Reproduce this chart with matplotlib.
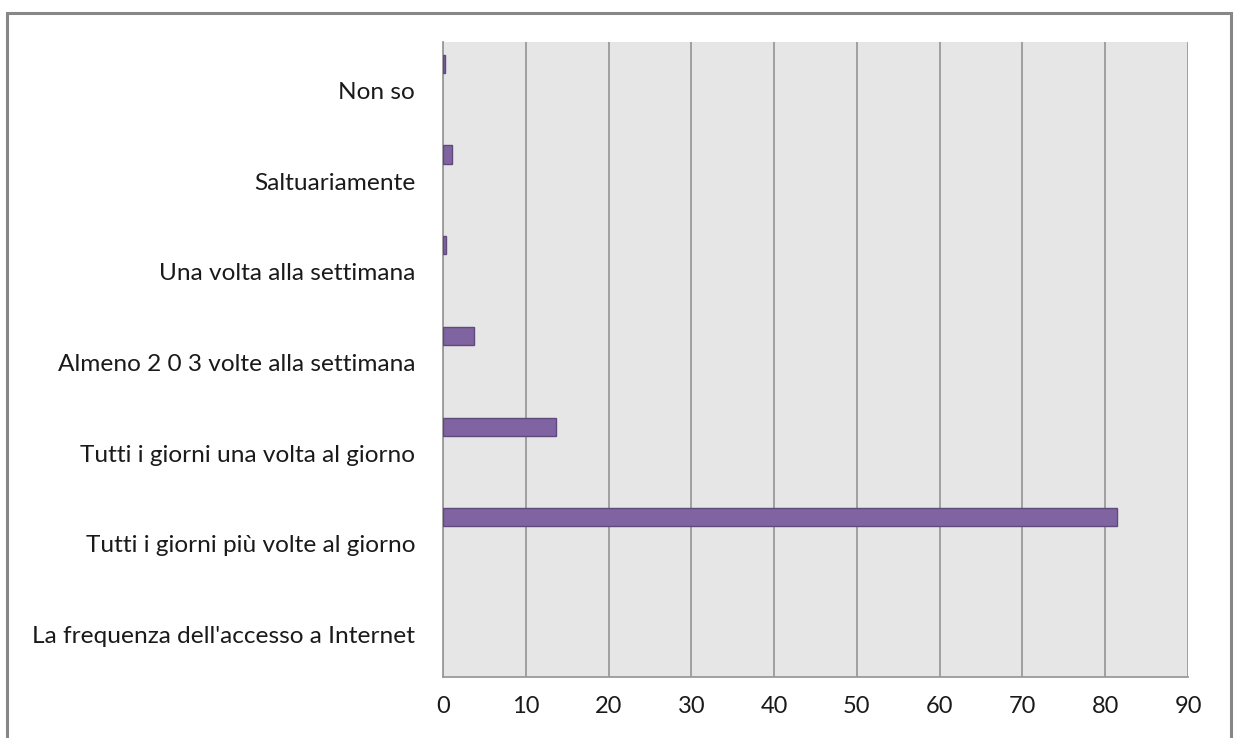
import matplotlib.pyplot as plt
import matplotlib.transforms as mtransforms
from matplotlib.patches import Rectangle

# ---- Дані ----
categories = [
    "La frequenza dell'accesso a Internet",
    "Tutti i giorni più volte al giorno",
    "Tutti i giorni una volta al giorno",
    "Almeno 2 0 3 volte alla settimana",
    "Una volta alla settimana",
    "Saltuariamente",
    "Non so",
]
values = [0, 81.4, 13.6, 3.8, 0.4, 1.1, 0.2]
x_ticks = [0, 10, 20, 30, 40, 50, 60, 70, 80, 90]

plt.rcParams['font.family'] = ['Lato', 'DejaVu Sans']

fig = plt.figure(figsize=(12.38, 7.38), dpi=100)
ax = fig.add_axes([443 / 1238, 1 - 677 / 738, 745 / 1238, 635 / 738])

# зовнішня рамка
fig.patches.append(Rectangle((7 / 1238, -0.05), 1224 / 1238, 1.05 - 13 / 738,
                             transform=fig.transFigure, fill=False,
                             edgecolor='#878787', linewidth=2.2, zorder=0))

ax.set_facecolor('#e6e6e6')
ypos = list(range(len(categories)))
edges = ['#5e4a7d' if v > 0 else 'none' for v in values]
ax.barh([y + 0.26 for y in ypos], values, height=0.2, color='#8064a2',
        edgecolor=edges, linewidth=1.0, zorder=3)

ax.set_xlim(0, 90)
ax.set_ylim(-0.5, len(categories) - 0.5)
ax.set_xticks(x_ticks)
ax.set_yticks(ypos)
ax.set_yticklabels(categories)
ax.tick_params(axis='both', length=0, colors='#1a1a1a')
ax.tick_params(axis='y', pad=20, labelsize=17.6)
ax.tick_params(axis='x', pad=14, labelsize=17)
ax.grid(axis='x', color='#9a9a9a', linewidth=1.3, zorder=1)
for side in ['top', 'right']:
    ax.spines[side].set_visible(False)
for side in ['left', 'bottom']:
    ax.spines[side].set_color('#9a9a9a')
    ax.spines[side].set_linewidth(1.3)

# трохи опустити підписи категорій
shift = mtransforms.ScaledTranslation(0, -3 / 100, fig.dpi_scale_trans)
for lbl in ax.get_yticklabels():
    lbl.set_transform(lbl.get_transform() + shift)

plt.savefig('out.png', dpi=100)
